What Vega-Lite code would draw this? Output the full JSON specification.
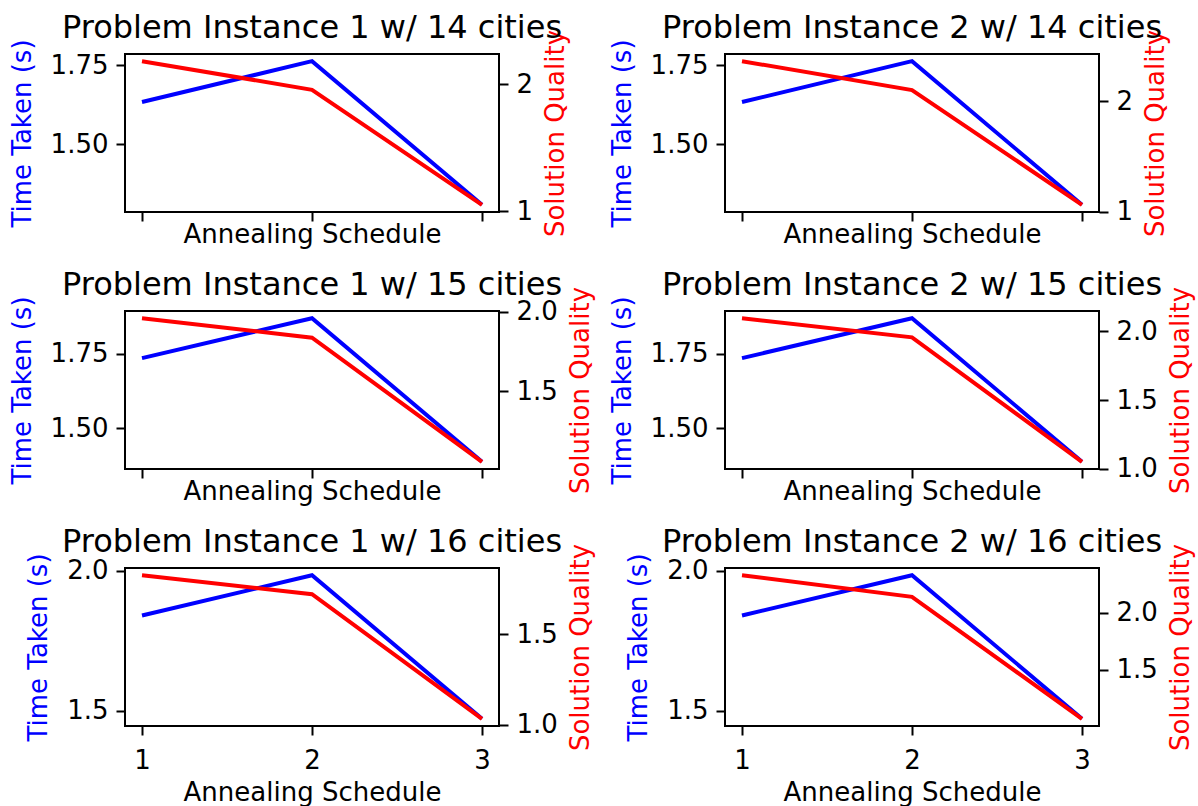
{
  "$schema": "https://vega.github.io/schema/vega-lite/v6.json",
  "background": "white",
  "padding": {"left": 8, "top": 10, "right": 5, "bottom": 5},
  "datasets": {
    "d": [
      {"panel": "p1", "schedule": 1, "time": 1.634, "quality": 2.18},
      {"panel": "p1", "schedule": 2, "time": 1.763, "quality": 1.955},
      {"panel": "p1", "schedule": 3, "time": 1.309, "quality": 1.05},
      {"panel": "p2", "schedule": 1, "time": 1.634, "quality": 2.365},
      {"panel": "p2", "schedule": 2, "time": 1.763, "quality": 2.103},
      {"panel": "p2", "schedule": 3, "time": 1.309, "quality": 1.061},
      {"panel": "p3", "schedule": 1, "time": 1.736, "quality": 1.959},
      {"panel": "p3", "schedule": 2, "time": 1.87, "quality": 1.837},
      {"panel": "p3", "schedule": 3, "time": 1.388, "quality": 1.059},
      {"panel": "p4", "schedule": 1, "time": 1.736, "quality": 2.097},
      {"panel": "p4", "schedule": 2, "time": 1.87, "quality": 1.957},
      {"panel": "p4", "schedule": 3, "time": 1.388, "quality": 1.05},
      {"panel": "p5", "schedule": 1, "time": 1.841, "quality": 1.827},
      {"panel": "p5", "schedule": 2, "time": 1.985, "quality": 1.722},
      {"panel": "p5", "schedule": 3, "time": 1.472, "quality": 1.033},
      {"panel": "p6", "schedule": 1, "time": 1.841, "quality": 2.331},
      {"panel": "p6", "schedule": 2, "time": 1.985, "quality": 2.14},
      {"panel": "p6", "schedule": 3, "time": 1.472, "quality": 1.067}
    ]
  },
  "columns": 2,
  "spacing": {"row": 99, "column": 226},
  "bounds": "flush",
  "concat": [
    {
      "title": "Problem Instance 1 w/ 14 cities",
      "width": 374, "height": 158,
      "data": {"name": "d"},
      "transform": [{"filter": "datum.panel === 'p1'"}],
      "encoding": {"x": {"field": "schedule", "type": "quantitative", "scale": {"domain": [0.9, 3.1], "nice": false, "zero": false}, "axis": {"values": [1, 2, 3], "labels": false, "title": "Annealing Schedule", "titlePadding": -1}}},
      "layer": [
        {"mark": {"type": "line", "color": "#0000ff"}, "encoding": {"y": {"field": "time", "type": "quantitative", "scale": {"zero": false, "nice": false, "padding": 7.18}, "axis": {"orient": "left", "values": [1.5, 1.75], "format": ".2f", "title": "Time Taken (s)", "titleColor": "#0000ff", "titlePadding": 15}}}},
        {"mark": {"type": "line", "color": "#ff0000"}, "encoding": {"y": {"field": "quality", "type": "quantitative", "scale": {"zero": false, "nice": false, "padding": 7.18}, "axis": {"orient": "right", "values": [1, 2], "format": "d", "title": "Solution Quality", "titleColor": "#ff0000", "titleAngle": 270, "titleBaseline": "top", "titlePadding": 10}}}}
      ],
      "resolve": {"scale": {"y": "independent"}}
    },
    {
      "title": "Problem Instance 2 w/ 14 cities",
      "width": 374, "height": 158,
      "data": {"name": "d"},
      "transform": [{"filter": "datum.panel === 'p2'"}],
      "encoding": {"x": {"field": "schedule", "type": "quantitative", "scale": {"domain": [0.9, 3.1], "nice": false, "zero": false}, "axis": {"values": [1, 2, 3], "labels": false, "title": "Annealing Schedule", "titlePadding": -1}}},
      "layer": [
        {"mark": {"type": "line", "color": "#0000ff"}, "encoding": {"y": {"field": "time", "type": "quantitative", "scale": {"zero": false, "nice": false, "padding": 7.18}, "axis": {"orient": "left", "values": [1.5, 1.75], "format": ".2f", "title": "Time Taken (s)", "titleColor": "#0000ff", "titlePadding": 15}}}},
        {"mark": {"type": "line", "color": "#ff0000"}, "encoding": {"y": {"field": "quality", "type": "quantitative", "scale": {"zero": false, "nice": false, "padding": 7.18}, "axis": {"orient": "right", "values": [1, 2], "format": "d", "title": "Solution Quality", "titleColor": "#ff0000", "titleAngle": 270, "titleBaseline": "top", "titlePadding": 10}}}}
      ],
      "resolve": {"scale": {"y": "independent"}}
    },
    {
      "title": "Problem Instance 1 w/ 15 cities",
      "width": 374, "height": 158,
      "data": {"name": "d"},
      "transform": [{"filter": "datum.panel === 'p3'"}],
      "encoding": {"x": {"field": "schedule", "type": "quantitative", "scale": {"domain": [0.9, 3.1], "nice": false, "zero": false}, "axis": {"values": [1, 2, 3], "labels": false, "title": "Annealing Schedule", "titlePadding": -1}}},
      "layer": [
        {"mark": {"type": "line", "color": "#0000ff"}, "encoding": {"y": {"field": "time", "type": "quantitative", "scale": {"zero": false, "nice": false, "padding": 7.18}, "axis": {"orient": "left", "values": [1.5, 1.75], "format": ".2f", "title": "Time Taken (s)", "titleColor": "#0000ff", "titlePadding": 15}}}},
        {"mark": {"type": "line", "color": "#ff0000"}, "encoding": {"y": {"field": "quality", "type": "quantitative", "scale": {"zero": false, "nice": false, "padding": 7.18}, "axis": {"orient": "right", "values": [1.5, 2.0], "format": ".1f", "title": "Solution Quality", "titleColor": "#ff0000", "titleAngle": 270, "titleBaseline": "top", "titlePadding": 10}}}}
      ],
      "resolve": {"scale": {"y": "independent"}}
    },
    {
      "title": "Problem Instance 2 w/ 15 cities",
      "width": 374, "height": 158,
      "data": {"name": "d"},
      "transform": [{"filter": "datum.panel === 'p4'"}],
      "encoding": {"x": {"field": "schedule", "type": "quantitative", "scale": {"domain": [0.9, 3.1], "nice": false, "zero": false}, "axis": {"values": [1, 2, 3], "labels": false, "title": "Annealing Schedule", "titlePadding": -1}}},
      "layer": [
        {"mark": {"type": "line", "color": "#0000ff"}, "encoding": {"y": {"field": "time", "type": "quantitative", "scale": {"zero": false, "nice": false, "padding": 7.18}, "axis": {"orient": "left", "values": [1.5, 1.75], "format": ".2f", "title": "Time Taken (s)", "titleColor": "#0000ff", "titlePadding": 15}}}},
        {"mark": {"type": "line", "color": "#ff0000"}, "encoding": {"y": {"field": "quality", "type": "quantitative", "scale": {"zero": false, "nice": false, "padding": 7.18}, "axis": {"orient": "right", "values": [1.0, 1.5, 2.0], "format": ".1f", "title": "Solution Quality", "titleColor": "#ff0000", "titleAngle": 270, "titleBaseline": "top", "titlePadding": 10}}}}
      ],
      "resolve": {"scale": {"y": "independent"}}
    },
    {
      "title": "Problem Instance 1 w/ 16 cities",
      "width": 374, "height": 158,
      "data": {"name": "d"},
      "transform": [{"filter": "datum.panel === 'p5'"}],
      "encoding": {"x": {"field": "schedule", "type": "quantitative", "scale": {"domain": [0.9, 3.1], "nice": false, "zero": false}, "axis": {"values": [1, 2, 3], "format": "d", "title": "Annealing Schedule", "labelPadding": 12, "titlePadding": 6}}},
      "layer": [
        {"mark": {"type": "line", "color": "#0000ff"}, "encoding": {"y": {"field": "time", "type": "quantitative", "scale": {"zero": false, "nice": false, "padding": 7.18}, "axis": {"orient": "left", "values": [1.5, 2.0], "format": ".1f", "title": "Time Taken (s)", "titleColor": "#0000ff", "titlePadding": 15}}}},
        {"mark": {"type": "line", "color": "#ff0000"}, "encoding": {"y": {"field": "quality", "type": "quantitative", "scale": {"zero": false, "nice": false, "padding": 7.18}, "axis": {"orient": "right", "values": [1.0, 1.5], "format": ".1f", "title": "Solution Quality", "titleColor": "#ff0000", "titleAngle": 270, "titleBaseline": "top", "titlePadding": 10}}}}
      ],
      "resolve": {"scale": {"y": "independent"}}
    },
    {
      "title": "Problem Instance 2 w/ 16 cities",
      "width": 374, "height": 158,
      "data": {"name": "d"},
      "transform": [{"filter": "datum.panel === 'p6'"}],
      "encoding": {"x": {"field": "schedule", "type": "quantitative", "scale": {"domain": [0.9, 3.1], "nice": false, "zero": false}, "axis": {"values": [1, 2, 3], "format": "d", "title": "Annealing Schedule", "labelPadding": 12, "titlePadding": 6}}},
      "layer": [
        {"mark": {"type": "line", "color": "#0000ff"}, "encoding": {"y": {"field": "time", "type": "quantitative", "scale": {"zero": false, "nice": false, "padding": 7.18}, "axis": {"orient": "left", "values": [1.5, 2.0], "format": ".1f", "title": "Time Taken (s)", "titleColor": "#0000ff", "titlePadding": 15}}}},
        {"mark": {"type": "line", "color": "#ff0000"}, "encoding": {"y": {"field": "quality", "type": "quantitative", "scale": {"zero": false, "nice": false, "padding": 7.18}, "axis": {"orient": "right", "values": [1.5, 2.0], "format": ".1f", "title": "Solution Quality", "titleColor": "#ff0000", "titleAngle": 270, "titleBaseline": "top", "titlePadding": 10}}}}
      ],
      "resolve": {"scale": {"y": "independent"}}
    }
  ],
  "config": {
    "font": "DejaVu Sans",
    "view": {"stroke": "black", "strokeWidth": 2},
    "line": {"strokeWidth": 4},
    "axis": {
      "grid": false, "domain": false,
      "tickColor": "black", "tickSize": 9, "tickWidth": 2,
      "labelFont": "DejaVu Sans", "labelFontSize": 26, "labelColor": "black", "labelPadding": 8,
      "labelFlush": false, "labelOverlap": false,
      "titleFont": "DejaVu Sans", "titleFontSize": 26, "titleFontWeight": "normal", "titleColor": "black"
    },
    "title": {"font": "DejaVu Sans", "fontSize": 32, "fontWeight": "normal", "color": "black", "frame": "group", "anchor": "middle", "baseline": "alphabetic", "offset": -15.5}
  }
}
